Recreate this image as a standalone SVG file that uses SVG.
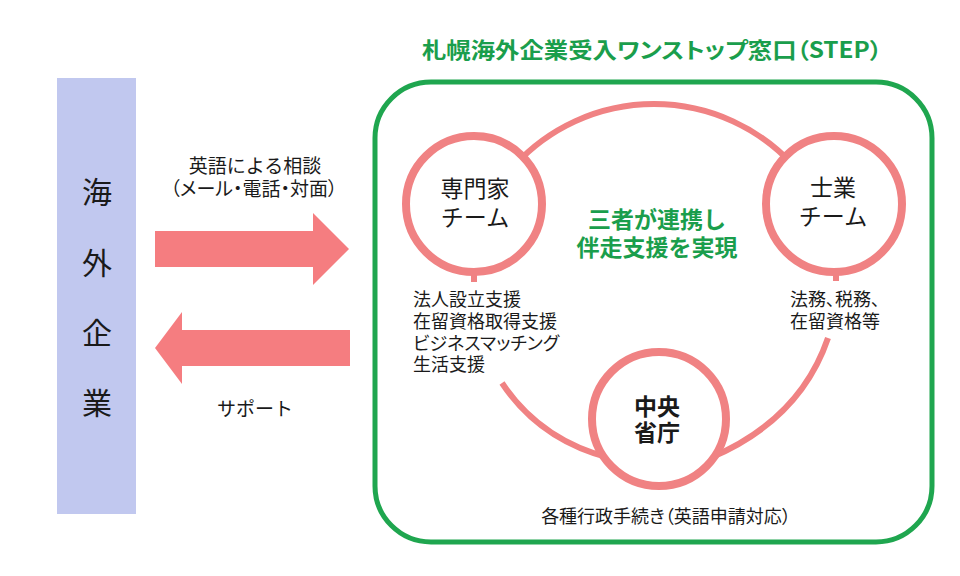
<svg xmlns="http://www.w3.org/2000/svg" width="960" height="576" viewBox="0 0 960 576">
<style>
text{font-family:"Noto Sans CJK JP","Noto Sans",sans-serif;fill:#1a1a1a}
.node{fill:#fff;stroke:#f08283;stroke-width:8}
.link{fill:none;stroke:#f08283;stroke-width:6}
.arrow{fill:#f57d80}
.green{fill:#1a9e4c;font-weight:bold}
.nl{font-size:23px;text-anchor:middle}
.sm{font-size:18px}
.mid{text-anchor:middle}
.palt{font-feature-settings:"palt"}
</style>
<rect width="960" height="576" fill="#fff"/>
<g id="foreign-companies">
<rect x="57" y="78" width="79" height="436" fill="#c1c8ef"/>
<text font-size="30" class="mid"><tspan x="97" y="203">海</tspan><tspan x="97" y="274">外</tspan><tspan x="97" y="344">企</tspan><tspan x="97" y="414">業</tspan></text>
</g>
<g id="step-window">
<rect x="375" y="82" width="557" height="460" rx="56" fill="none" stroke="#1fa64f" stroke-width="5"/>
<text x="652" y="58" font-size="22" class="green mid palt" textLength="460" lengthAdjust="spacingAndGlyphs">札幌海外企業受入ワンストップ窓口（STEP）</text>
<text font-size="23" class="green mid"><tspan x="657" y="228">三者が連携し</tspan><tspan x="657" y="256">伴走支援を実現</tspan></text>
</g>
<g id="connectors">
<polygon class="arrow" points="155,231 313,231 313,213 349,249 313,285 313,267 155,267"/>
<polygon class="arrow" points="350,330 182,330 182,312 155,348 182,384 182,366 350,366"/>
<text font-size="19" class="mid"><tspan x="255" y="173">英語による相談</tspan><tspan x="254" y="196" class="palt">（メール・電話・対面）</tspan></text>
<text x="255" y="416" font-size="19" class="mid">サポート</text>
<path class="link" d="M515,165 A189,189 0 0 1 793,165"/>
<path class="link" d="M502,383 Q540,440 610,458"/>
<path class="link" d="M828,338 Q800,420 710,458"/>
<line class="link" x1="474" y1="262" x2="474" y2="282" stroke-width="7"/>
<line class="link" x1="836" y1="262" x2="836" y2="281" stroke-width="7"/>
</g>
<g id="expert-team">
<circle class="node" cx="474" cy="204" r="68"/>
<text class="nl"><tspan x="475" y="197">専門家</tspan><tspan x="475" y="226">チーム</tspan></text>
<text class="sm"><tspan x="413" y="306">法人設立支援</tspan><tspan x="413" y="328">在留資格取得支援</tspan><tspan x="413" y="350" class="palt">ビジネスマッチング</tspan><tspan x="413" y="371">生活支援</tspan></text>
</g>
<g id="licensed-team">
<circle class="node" cx="834" cy="204" r="68"/>
<text class="nl"><tspan x="833" y="196">士業</tspan><tspan x="833" y="225">チーム</tspan></text>
<text class="sm palt"><tspan x="790" y="306">法務、税務、</tspan><tspan x="790" y="328">在留資格等</tspan></text>
</g>
<g id="ministries">
<circle class="node" cx="659" cy="419" r="67"/>
<text class="nl" font-weight="bold"><tspan x="657" y="415">中央</tspan><tspan x="657" y="441">省庁</tspan></text>
<text x="666" y="523" class="sm mid palt" font-size="18.5">各種行政手続き（英語申請対応）</text>
</g>
</svg>
